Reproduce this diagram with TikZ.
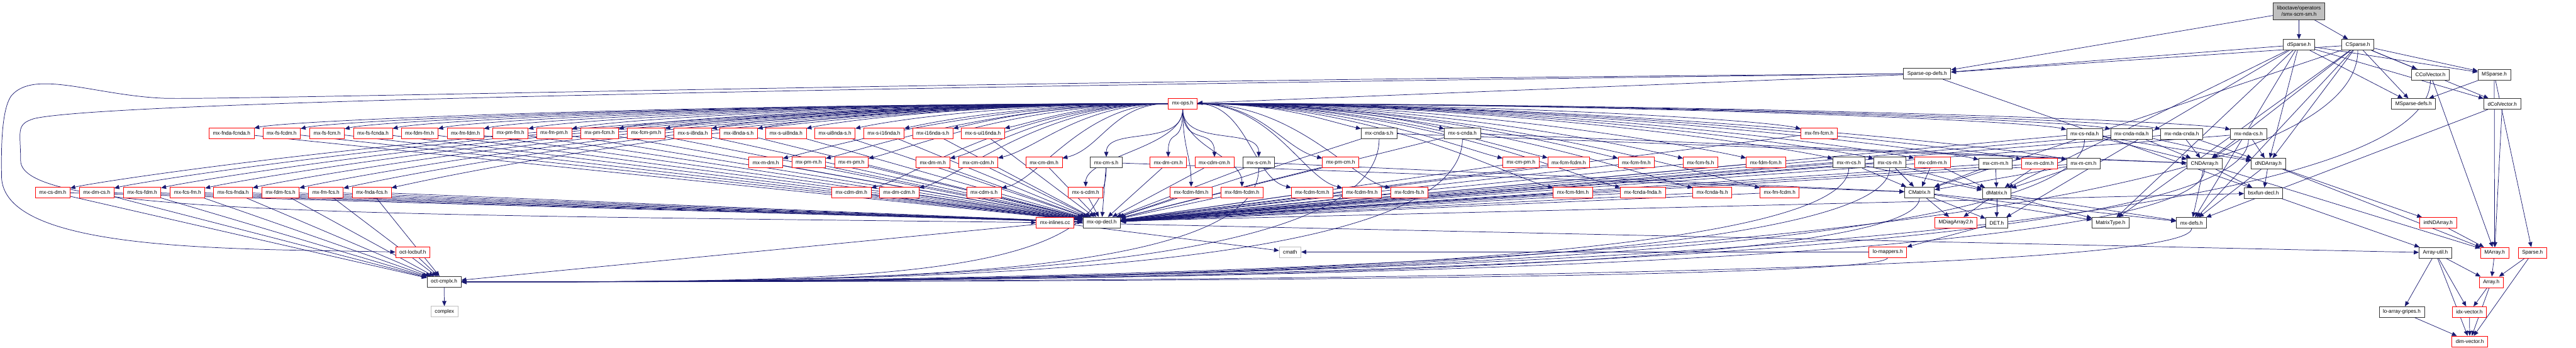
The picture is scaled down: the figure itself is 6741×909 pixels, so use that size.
\documentclass[tikz,border=0pt]{standalone}
\usepackage{fontspec}
\setmainfont{Liberation Sans}
\usetikzlibrary{arrows.meta,backgrounds,calc}
\definecolor{edgeblue}{HTML}{191970}
\definecolor{graybox}{HTML}{BFBFBF}
\tikzset{
  hdr/.style={draw=black!80, line width=0.33pt, fill=white, font=\fontsize{3.375}{4}\selectfont,
    inner xsep=2.5pt, inner ysep=0pt, minimum height=7pt},
  trunc/.style={hdr, draw=red},
  sysfile/.style={hdr, draw=graybox},
  rootfile/.style={hdr, fill=graybox, align=center, minimum height=11pt},
  inc/.style={edgeblue, line width=0.3pt, -{Triangle[length=3.25pt,width=2.75pt]}},
}
\newcommand{\fanL}[1]{\draw[inc] (ops) .. controls ($(ops)!0.5!(ops -| #1)$) and ([xshift=25pt,yshift=5pt]#1.north east) .. (#1);}
\newcommand{\fanR}[1]{\draw[inc] (ops) .. controls ($(ops)!0.5!(ops -| #1)$) and ([xshift=-25pt,yshift=5pt]#1.north west) .. (#1);}
\newcommand{\fanD}[1]{\draw[inc] (ops) .. controls ([yshift=-25pt]ops.south) and ([yshift=20pt]#1.north) .. (#1);}
\newcommand{\cplxedge}[1]{\draw[inc] (#1) .. controls (#1 |- cmplx) and ([xshift=250pt]cmplx.east) .. (cmplx);}
\begin{document}
\begin{tikzpicture}[x=0.25pt,y=-0.25pt]
    \useasboundingbox (0,0) rectangle (6741,909);
    \node[rootfile] (root) at (6016,29) {liboctave/operators\\/smx-scm-sm.h};
    \node[hdr] (dsp) at (6016,117) {dSparse.h};
    \node[hdr] (csp) at (6170,117) {CSparse.h};
    \node[hdr] (spdefs) at (5043,193) {Sparse-op-defs.h};
    \node[hdr] (ccol) at (6360,195) {CColVector.h};
    \node[hdr] (msp) at (6527,195) {MSparse.h};
    \node[trunc] (ops) at (3095,271) {mx-ops.h};
    \node[hdr] (mspdefs) at (6316,272) {MSparse-defs.h};
    \node[hdr] (dcol) at (6548,272) {dColVector.h};
    \node[trunc] (fndafcnda) at (606,348) {mx-fnda-fcnda.h};
    \node[trunc] (fsfcdm) at (737,348) {mx-fs-fcdm.h};
    \node[trunc] (fsfcm) at (856,348) {mx-fs-fcm.h};
    \node[trunc] (fsfcnda) at (976,348) {mx-fs-fcnda.h};
    \node[trunc] (fdmfm) at (1098,348) {mx-fdm-fm.h};
    \node[trunc] (fmfdm) at (1218,348) {mx-fm-fdm.h};
    \node[trunc] (pmfm) at (1336,348) {mx-pm-fm.h};
    \node[trunc] (fmpm) at (1450,348) {mx-fm-pm.h};
    \node[trunc] (pmfcm) at (1569,348) {mx-pm-fcm.h};
    \node[trunc] (fcmpm) at (1691,348) {mx-fcm-pm.h};
    \node[trunc] (si8nda) at (1813,348) {mx-s-i8nda.h};
    \node[trunc] (i8ndas) at (1933,348) {mx-i8nda-s.h};
    \node[trunc] (sui8nda) at (2057,348) {mx-s-ui8nda.h};
    \node[trunc] (ui8ndas) at (2185,348) {mx-ui8nda-s.h};
    \node[trunc] (si16nda) at (2313,348) {mx-s-i16nda.h};
    \node[trunc] (i16ndas) at (2441,348) {mx-i16nda-s.h};
    \node[trunc] (sui16nda) at (2572,348) {mx-s-ui16nda.h};
    \node[hdr] (cndas) at (3609,348) {mx-cnda-s.h};
    \node[hdr] (scnda) at (3827,348) {mx-s-cnda.h};
    \node[trunc] (fmfcm) at (4760,348) {mx-fm-fcm.h};
    \node[hdr] (csnda) at (5455,350) {mx-cs-nda.h};
    \node[hdr] (cndanda) at (5578,350) {mx-cnda-nda.h};
    \node[hdr] (ndacnda) at (5709,350) {mx-nda-cnda.h};
    \node[hdr] (ndacs) at (5884,350) {mx-nda-cs.h};
    \node[trunc] (mdm) at (2004,425) {mx-m-dm.h};
    \node[trunc] (pmm) at (2116,425) {mx-pm-m.h};
    \node[trunc] (mpm) at (2228,425) {mx-m-pm.h};
    \node[trunc] (dmm) at (2441,425) {mx-dm-m.h};
    \node[trunc] (cmcdm) at (2560,425) {mx-cm-cdm.h};
    \node[trunc] (cmdm) at (2732,425) {mx-cm-dm.h};
    \node[hdr] (cms) at (2895,425) {mx-cm-s.h};
    \node[trunc] (dmcm) at (3057,425) {mx-dm-cm.h};
    \node[trunc] (cdmcm) at (3178,425) {mx-cdm-cm.h};
    \node[hdr] (scm) at (3294,425) {mx-s-cm.h};
    \node[trunc] (pmcm) at (3508,425) {mx-pm-cm.h};
    \node[trunc] (cmpm) at (3980,425) {mx-cm-pm.h};
    \node[trunc] (fcmfcdm) at (4105,425) {mx-fcm-fcdm.h};
    \node[trunc] (fcmfm) at (4282,425) {mx-fcm-fm.h};
    \node[trunc] (fcmfs) at (4450,425) {mx-fcm-fs.h};
    \node[trunc] (fdmfcm) at (4621,425) {mx-fdm-fcm.h};
    \node[hdr] (mcs) at (4838,425) {mx-m-cs.h};
    \node[hdr] (csm) at (4945,425) {mx-cs-m.h};
    \node[trunc] (cdmm) at (5057,425) {mx-cdm-m.h};
    \node[hdr] (cmm) at (5222,428) {mx-cm-m.h};
    \node[trunc] (mcdm) at (5337,428) {mx-m-cdm.h};
    \node[hdr] (mcm) at (5452,428) {mx-m-cm.h};
    \node[hdr] (cnda) at (5769,428) {CNDArray.h};
    \node[hdr] (dnda) at (5936,428) {dNDArray.h};
    \node[trunc] (csdm) at (138,503) {mx-cs-dm.h};
    \node[trunc] (dmcs) at (253,503) {mx-dm-cs.h};
    \node[trunc] (fcsfdm) at (372,503) {mx-fcs-fdm.h};
    \node[trunc] (fcsfm) at (491,503) {mx-fcs-fm.h};
    \node[trunc] (fcsfnda) at (610,503) {mx-fcs-fnda.h};
    \node[trunc] (fdmfcs) at (734,503) {mx-fdm-fcs.h};
    \node[trunc] (fmfcs) at (853,503) {mx-fm-fcs.h};
    \node[trunc] (fndafcs) at (973,503) {mx-fnda-fcs.h};
    \node[trunc] (cdmdm) at (2228,503) {mx-cdm-dm.h};
    \node[trunc] (dmcdm) at (2353,503) {mx-dm-cdm.h};
    \node[trunc] (cdms) at (2575,503) {mx-cdm-s.h};
    \node[trunc] (scdm) at (2841,503) {mx-s-cdm.h};
    \node[trunc] (fcdmfdm) at (3117,503) {mx-fcdm-fdm.h};
    \node[trunc] (fdmfcdm) at (3250,503) {mx-fdm-fcdm.h};
    \node[trunc] (fcdmfcm) at (3434,503) {mx-fcdm-fcm.h};
    \node[trunc] (fcdmfm) at (3564,503) {mx-fcdm-fm.h};
    \node[trunc] (fcdmfs) at (3688,503) {mx-fcdm-fs.h};
    \node[trunc] (fcmfdm) at (4116,503) {mx-fcm-fdm.h};
    \node[trunc] (fcndafnda) at (4299,503) {mx-fcnda-fnda.h};
    \node[trunc] (fcndafs) at (4481,503) {mx-fcnda-fs.h};
    \node[trunc] (fmfcdm) at (4657,503) {mx-fm-fcdm.h};
    \node[hdr] (cmat) at (5023,503) {CMatrix.h};
    \node[hdr] (dmat) at (5225,505) {dMatrix.h};
    \node[hdr] (bsx) at (5923,505) {bsxfun-decl.h};
    \node[trunc] (inl) at (2761,582) {mx-inlines.cc};
    \node[hdr] (opdecl) at (2883,582) {mx-op-decl.h};
    \node[trunc] (mdiag) at (5118,582) {MDiagArray2.h};
    \node[hdr] (det) at (5225,583) {DET.h};
    \node[hdr] (mtype) at (5523,583) {MatrixType.h};
    \node[hdr] (mxdefs) at (5735,583) {mx-defs.h};
    \node[trunc] (intnd) at (6380,583) {intNDArray.h};
    \node[trunc] (locbuf) at (1080,659) {oct-locbuf.h};
    \node[sysfile] (cmath) at (3376,659) {cmath};
    \node[trunc] (lomap) at (4940,659) {lo-mappers.h};
    \node[hdr] (autil) at (6373,661) {Array-util.h};
    \node[trunc] (marr) at (6528,661) {MArray.h};
    \node[trunc] (sparse) at (6627,661) {Sparse.h};
    \node[hdr] (cmplx) at (1162,737) {oct-cmplx.h};
    \node[trunc] (array) at (6519,738) {Array.h};
    \node[sysfile] (complex) at (1163,815) {complex};
    \node[hdr] (gripes) at (6285,816) {lo-array-gripes.h};
    \node[trunc] (idx) at (6462,816) {idx-vector.h};
    \node[trunc] (dimv) at (6463,893) {dim-vector.h};
    \begin{scope}[on background layer]
    \path[inc] (root) edge (dsp) edge (csp) edge (spdefs);
    \path[inc] (dsp) edge (spdefs) edge (msp) edge (mspdefs) edge (dcol) edge (dnda)
      edge (dmat) edge (det) edge (mtype) edge (mxdefs);
    \path[inc] (csp) edge (spdefs) edge (ccol) edge (msp) edge (mspdefs) edge (dcol)
      edge (cnda) edge (dnda) edge (cmat) edge (mtype) edge (mxdefs);
    \cplxedge{csp}
    \path[inc] (spdefs) edge (ops) edge (autil);
    \draw[inc] (spdefs.west) .. controls (2500,212) and (600,262) .. (430,257)
      .. controls (250,250) and (90,180) .. (30,250)
      .. controls (0,290) and (4,420) .. (4,460)
      .. controls (4,660) and (600,650) .. (locbuf.west);
    \draw[inc] (spdefs.west) .. controls (2500,225) and (300,262) .. (90,310)
      .. controls (40,325) and (54,343) .. (54,420)
      .. controls (54,560) and (900,560) .. (inl.west);
    \path[inc] (ccol) edge (marr);
    \cplxedge{ccol}
    \path[inc] (dcol) edge (marr) edge (mxdefs);
    \path[inc] (msp) edge (mspdefs) edge (marr) edge (sparse);
    \fanL{fndafcnda} \fanL{fsfcdm} \fanL{fsfcm} \fanL{fsfcnda} \fanL{fdmfm}
    \fanL{fmfdm} \fanL{pmfm} \fanL{fmpm} \fanL{pmfcm} \fanL{fcmpm}
    \fanL{si8nda} \fanL{i8ndas} \fanL{sui8nda} \fanL{ui8ndas} \fanL{si16nda}
    \fanL{i16ndas} \fanL{sui16nda}
    \fanR{cndas} \fanR{scnda} \fanR{fmfcm}
    \fanR{csnda} \fanR{cndanda} \fanR{ndacnda} \fanR{ndacs}
    \fanL{mdm} \fanL{pmm} \fanL{mpm} \fanL{dmm} \fanL{cmcdm} \fanL{cmdm}
    \fanD{cms} \fanD{dmcm} \fanD{cdmcm} \fanD{scm} \fanR{pmcm} \fanR{cmpm}
    \fanR{fcmfcdm} \fanR{fcmfm} \fanR{fcmfs} \fanR{fdmfcm} \fanR{mcs}
    \fanR{csm} \fanR{cdmm} \fanR{cmm} \fanR{mcdm} \fanR{mcm}
    \fanL{csdm} \fanL{dmcs} \fanL{fcsfdm} \fanL{fcsfm} \fanL{fcsfnda}
    \fanL{fdmfcs} \fanL{fmfcs} \fanL{fndafcs} \fanL{cdmdm} \fanL{dmcdm}
    \fanL{cdms} \fanD{scdm} \fanD{fcdmfdm} \fanD{fdmfcdm} \fanR{fcdmfcm}
    \fanR{fcdmfm} \fanR{fcdmfs} \fanR{fcmfdm} \fanR{fcndafnda} \fanR{fcndafs}
    \fanR{fmfcdm}
    \path[inc] (fndafcnda) edge (opdecl);
    \path[inc] (fsfcdm) edge (opdecl);
    \path[inc] (fsfcm) edge (opdecl);
    \path[inc] (fsfcnda) edge (opdecl);
    \path[inc] (fdmfm) edge (opdecl);
    \path[inc] (fmfdm) edge (opdecl);
    \path[inc] (pmfm) edge (opdecl);
    \path[inc] (fmpm) edge (opdecl);
    \path[inc] (pmfcm) edge (opdecl);
    \path[inc] (fcmpm) edge (opdecl);
    \path[inc] (si8nda) edge (opdecl);
    \path[inc] (i8ndas) edge (opdecl);
    \path[inc] (sui8nda) edge (opdecl);
    \path[inc] (ui8ndas) edge (opdecl);
    \path[inc] (si16nda) edge (opdecl);
    \path[inc] (i16ndas) edge (opdecl);
    \path[inc] (sui16nda) edge (opdecl);
    \path[inc] (cndas) edge (opdecl) edge (cnda);
    \path[inc] (scnda) edge (opdecl) edge (cnda);
    \path[inc] (fmfcm) edge (opdecl);
    \path[inc] (csnda) edge (opdecl) edge (cnda) edge (dnda);
    \path[inc] (cndanda) edge (opdecl) edge (cnda) edge (dnda);
    \path[inc] (ndacnda) edge (opdecl) edge (cnda) edge (dnda);
    \path[inc] (ndacs) edge (opdecl) edge (cnda) edge (dnda);
    \cplxedge{cndas} \cplxedge{scnda} \cplxedge{csnda} \cplxedge{ndacs}
    \path[inc] (mdm) edge (opdecl);
    \path[inc] (pmm) edge (opdecl);
    \path[inc] (mpm) edge (opdecl);
    \path[inc] (dmm) edge (opdecl);
    \path[inc] (cmcdm) edge (opdecl);
    \path[inc] (cmdm) edge (opdecl);
    \path[inc] (cms) edge (opdecl) edge (cmat);
    \path[inc] (dmcm) edge (opdecl);
    \path[inc] (cdmcm) edge (opdecl);
    \path[inc] (scm) edge (opdecl) edge (cmat);
    \path[inc] (pmcm) edge (opdecl);
    \path[inc] (cmpm) edge (opdecl);
    \path[inc] (fcmfcdm) edge (opdecl);
    \path[inc] (fcmfm) edge (opdecl);
    \path[inc] (fcmfs) edge (opdecl);
    \path[inc] (fdmfcm) edge (opdecl);
    \path[inc] (mcs) edge (opdecl) edge (cmat) edge (dmat);
    \path[inc] (csm) edge (opdecl) edge (cmat) edge (dmat);
    \path[inc] (cdmm) edge (opdecl) edge (cmat) edge (dmat);
    \path[inc] (cmm) edge (opdecl) edge (cmat) edge (dmat);
    \path[inc] (mcdm) edge (opdecl) edge (dmat);
    \path[inc] (mcm) edge (opdecl) edge (cmat) edge (dmat);
    \cplxedge{cms} \cplxedge{scm} \cplxedge{mcs} \cplxedge{csm}
    \path[inc] (csdm) edge (opdecl) edge (cmplx);
    \path[inc] (dmcs) edge (opdecl) edge (cmplx);
    \path[inc] (fcsfdm) edge (opdecl) edge (cmplx);
    \path[inc] (fcsfm) edge (opdecl) edge (cmplx);
    \path[inc] (fcsfnda) edge (opdecl) edge (cmplx);
    \path[inc] (fdmfcs) edge (opdecl) edge (cmplx);
    \path[inc] (fmfcs) edge (opdecl) edge (cmplx);
    \path[inc] (fndafcs) edge (opdecl) edge (cmplx);
    \path[inc] (cdmdm) edge (opdecl);
    \path[inc] (dmcdm) edge (opdecl);
    \path[inc] (cdms) edge (opdecl);
    \path[inc] (scdm) edge (opdecl);
    \path[inc] (fcdmfdm) edge (opdecl);
    \path[inc] (fdmfcdm) edge (opdecl);
    \path[inc] (fcdmfcm) edge (opdecl);
    \path[inc] (fcdmfm) edge (opdecl);
    \path[inc] (fcdmfs) edge (opdecl);
    \path[inc] (fcmfdm) edge (opdecl);
    \path[inc] (fcndafnda) edge (opdecl);
    \path[inc] (fcndafs) edge (opdecl);
    \path[inc] (fmfcdm) edge (opdecl);
    \path[inc] (cnda) edge (bsx) edge (mxdefs) edge (marr);
    \path[inc] (dnda) edge (bsx) edge (mxdefs) edge (marr) edge (intnd);
    \path[inc] (cmat) edge (mdiag) edge (det) edge (mtype) edge (mxdefs);
    \path[inc] (dmat) edge (mdiag) edge (det) edge (mtype) edge (mxdefs);
    \cplxedge{cnda} \cplxedge{cmat} \cplxedge{mxdefs} \cplxedge{lomap}
    \path[inc] (det) edge (lomap);
    \path[inc] (intnd) edge (marr);
    \path[inc] (inl) edge (cmplx) edge (cmath) edge (bsx) edge (autil);
    \path[inc] (lomap) edge (cmath);
    \path[inc] (locbuf) edge (cmplx);
    \path[inc] (cmplx) edge (complex);
    \path[inc] (autil) edge (gripes) edge (dimv) edge (idx) edge (array);
    \path[inc] (marr) edge (array);
    \path[inc] (sparse) edge (array) edge (dimv);
    \path[inc] (array) edge (idx) edge (dimv);
    \path[inc] (gripes) edge (dimv);
    \path[inc] (idx) edge (dimv);
    \end{scope}
\end{tikzpicture}
\end{document}
